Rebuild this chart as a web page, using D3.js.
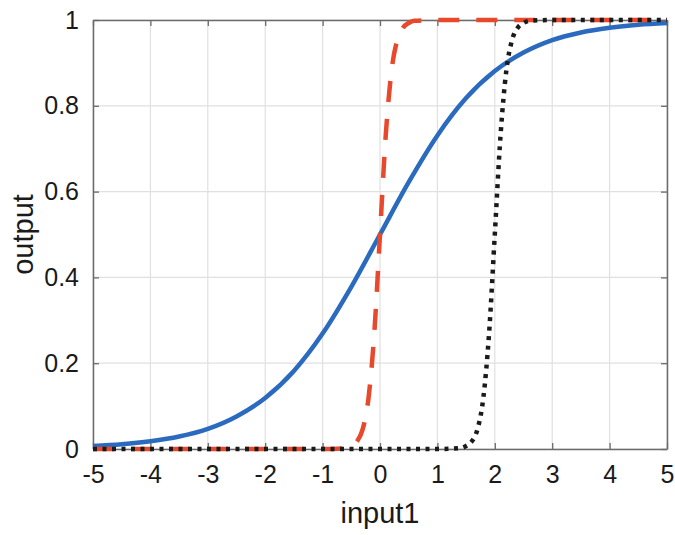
<!DOCTYPE html>
<html>
<head>
<meta charset="utf-8">
<script src="https://cdnjs.cloudflare.com/ajax/libs/d3/7.8.5/d3.min.js"></script>
<style>
  body { margin: 0; background: #fff; }
  text { font-family: 'Liberation Sans', Arial, sans-serif; fill: #1a1a1a; }
</style>
</head>
<body>
<div id="chart"></div>
<script>
'use strict'

// Values
//------------------------------
var x_ticks = [-5, -4, -3, -2, -1, 0, 1, 2, 3, 4, 5]
var x_tick_labels = ['-5', '-4', '-3', '-2', '-1', '0', '1', '2', '3', '4', '5']
var y_ticks = [0, 0.2, 0.4, 0.6, 0.8, 1]
var y_tick_labels = ['0', '0.2', '0.4', '0.6', '0.8', '1']

// solid blue curve
var blue_x = [-5, -4.5, -4, -3.5, -3, -2.5, -2, -1.5, -1, -0.5, 0, 0.5, 1, 1.5, 2, 2.5, 3, 3.5, 4, 4.5, 5]
var blue_y = [0.007, 0.011, 0.018, 0.029, 0.047, 0.076, 0.119, 0.182, 0.269, 0.378, 0.5,
  0.622, 0.731, 0.818, 0.881, 0.924, 0.953, 0.971, 0.982, 0.989, 0.993]

// dashed red curve
var red_x = [-5, -2, -1, -0.6, -0.5, -0.4, -0.3, -0.2, -0.1, 0, 0.1, 0.2, 0.3, 0.4, 0.5, 0.6, 1, 2, 5]
var red_y = [0, 0, 0, 0.002, 0.007, 0.018, 0.047, 0.119, 0.269, 0.5, 0.731, 0.881, 0.953, 0.982, 0.993, 0.998, 1, 1, 1]

// dotted black curve
var black_x = [-5, -2, 0, 1, 1.4, 1.5, 1.6, 1.7, 1.8, 1.9, 2, 2.1, 2.2, 2.3, 2.4, 2.5, 2.6, 3, 5]
var black_y = [0, 0, 0, 0, 0.002, 0.007, 0.018, 0.047, 0.119, 0.269, 0.5, 0.731, 0.881, 0.953, 0.982, 0.993, 0.998, 1, 1]

//------------------------------
var W = 675, H = 535
var margin = {top: 20, right: 8, bottom: 86, left: 93}
var width = W - margin.left - margin.right
var height = H - margin.top - margin.bottom

var svg = d3.select('#chart').append('svg')
  .attr('width', W)
  .attr('height', H)

var g = svg.append('g')
  .attr('transform', 'translate(' + margin.left + ',' + margin.top + ')')

var scale_x = d3.scaleLinear().domain([-5, 5]).range([0, width])
var scale_y = d3.scaleLinear().domain([0, 1]).range([height, 0])

// Grid
//--------
g.append('g').selectAll('line')
  .data(x_ticks)
  .enter().append('line')
  .attr('x1', d => scale_x(d)).attr('x2', d => scale_x(d))
  .attr('y1', 0).attr('y2', height)
  .style('stroke', '#e0e0e0').style('stroke-width', 1.2)

g.append('g').selectAll('line')
  .data(y_ticks)
  .enter().append('line')
  .attr('y1', d => scale_y(d)).attr('y2', d => scale_y(d))
  .attr('x1', 0).attr('x2', width)
  .style('stroke', '#e0e0e0').style('stroke-width', 1.2)

// Axes (ticks inward, box all round)
//-------------------------------------
var ax_bottom = g.append('g')
  .attr('transform', 'translate(0,' + height + ')')
  .call(d3.axisBottom(scale_x).tickValues(x_ticks).tickFormat((d, i) => x_tick_labels[i])
    .tickSizeInner(-6).tickSizeOuter(0).tickPadding(16))
var ax_left = g.append('g')
  .call(d3.axisLeft(scale_y).tickValues(y_ticks).tickFormat((d, i) => y_tick_labels[i])
    .tickSizeInner(-6).tickSizeOuter(0).tickPadding(14))
var ax_top = g.append('g')
  .call(d3.axisTop(scale_x).tickValues(x_ticks).tickSizeInner(-6).tickSizeOuter(0).tickFormat(''))
var ax_right = g.append('g')
  .attr('transform', 'translate(' + width + ',0)')
  .call(d3.axisRight(scale_y).tickValues(y_ticks).tickSizeInner(-6).tickSizeOuter(0).tickFormat(''))

;[ax_bottom, ax_left, ax_top, ax_right].forEach(function(a) {
  a.selectAll('path.domain').style('stroke', '#6b6b6b').style('stroke-width', 1.5)
  a.selectAll('.tick line').style('stroke', '#6b6b6b').style('stroke-width', 1.3)
  a.selectAll('text').style('font-size', '25px').style('fill', '#1a1a1a')
    .style('font-family', "'Liberation Sans', Arial, sans-serif")
})

// Curves
//---------
var line = d3.line()
  .x(d => scale_x(d[0]))
  .y(d => scale_y(d[1]))
  .curve(d3.curveMonotoneX)

g.append('path')
  .datum(d3.zip(blue_x, blue_y))
  .attr('d', line)
  .style('fill', 'none').style('stroke', '#2a6bbf').style('stroke-width', 4.5)

g.append('path')
  .datum(d3.zip(red_x, red_y))
  .attr('d', line)
  .style('fill', 'none').style('stroke', '#e8482b').style('stroke-width', 4.5)
  .style('stroke-dasharray', '21,17')

g.append('path')
  .datum(d3.zip(black_x, black_y))
  .attr('d', line)
  .style('fill', 'none').style('stroke', '#1a1a1a').style('stroke-width', 4.5)
  .style('stroke-dasharray', '4,5.5')

// Axis labels
//--------------
svg.append('text')
  .attr('x', margin.left + width / 2)
  .attr('y', 523)
  .attr('text-anchor', 'middle')
  .style('font-size', '29px')
  .text('input1')

svg.append('text')
  .attr('transform', 'translate(33,' + (margin.top + height / 2) + ') rotate(-90)')
  .attr('text-anchor', 'middle')
  .style('font-size', '29px')
  .text('output')
</script>
</body>
</html>
